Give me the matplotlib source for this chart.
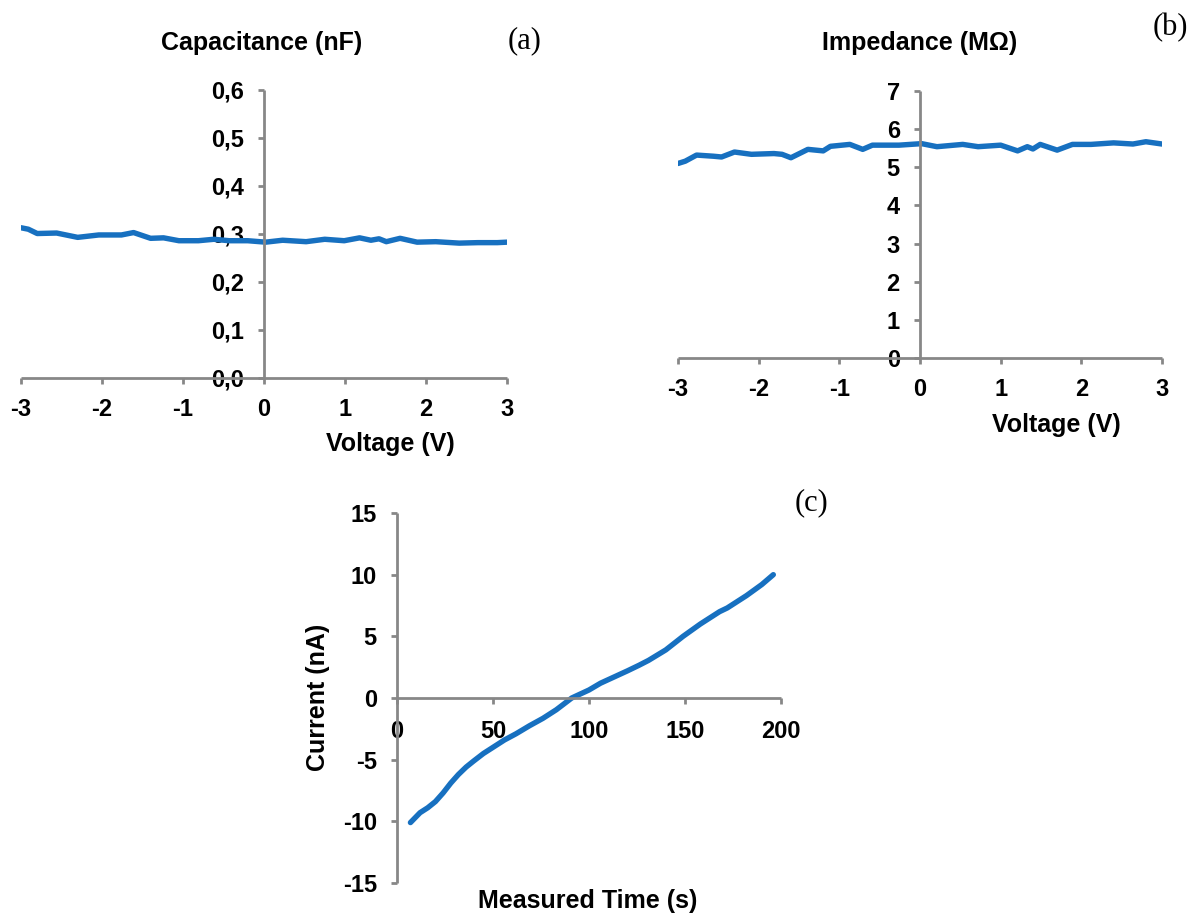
import matplotlib
matplotlib.use("Agg")
import matplotlib.pyplot as plt

# ---------------- data ----------------
cap_v = [-3.0, -2.91, -2.80, -2.56, -2.30, -2.04, -1.76, -1.61, -1.40, -1.24, -1.05, -0.81,
         -0.62, -0.43, -0.20, 0.02, 0.23, 0.52, 0.75, 0.99, 1.18, 1.32, 1.42, 1.51, 1.68,
         1.89, 2.12, 2.41, 2.64, 2.88, 3.0]
cap_nf = [0.313, 0.310, 0.301, 0.302, 0.293, 0.298, 0.298, 0.303, 0.291, 0.292, 0.286, 0.286,
          0.289, 0.286, 0.286, 0.283, 0.287, 0.284, 0.289, 0.286, 0.292, 0.287, 0.290, 0.284, 0.291,
          0.283, 0.284, 0.281, 0.282, 0.282, 0.283]

imp_v = [-3.0, -2.91, -2.77, -2.56, -2.46, -2.30, -2.09, -1.81, -1.71, -1.60, -1.39, -1.20,
         -1.11, -0.87, -0.71, -0.59, -0.26, 0.02, 0.21, 0.53, 0.72, 1.00, 1.21, 1.33, 1.40,
         1.49, 1.70, 1.89, 2.12, 2.40, 2.64, 2.80, 3.0]
imp_mohm = [5.10, 5.16, 5.32, 5.29, 5.27, 5.40, 5.34, 5.36, 5.34, 5.25, 5.47, 5.43,
            5.55, 5.60, 5.47, 5.58, 5.58, 5.62, 5.54, 5.60, 5.54, 5.58, 5.43, 5.54, 5.48,
            5.60, 5.45, 5.60, 5.60, 5.64, 5.61, 5.67, 5.61]

time_s = [7, 12, 16, 20, 24, 28, 32, 36, 40, 45, 50, 56, 62, 69, 76, 83, 91, 100, 106, 113,
          120, 126, 131, 140, 149, 158, 168, 172, 175, 182, 190, 196]
current_na = [-10.1, -9.3, -8.9, -8.4, -7.7, -6.9, -6.2, -5.6, -5.1, -4.5, -4.0, -3.4, -2.9,
              -2.25, -1.65, -0.95, 0.0, 0.65, 1.2, 1.7, 2.2, 2.65, 3.05, 3.9, 5.0, 6.0, 7.0,
              7.3, 7.6, 8.3, 9.2, 10.0]

v_ticks = [-3, -2, -1, 0, 1, 2, 3]
cap_ticks = [0.0, 0.1, 0.2, 0.3, 0.4, 0.5, 0.6]
cap_ticklabels = ["0,0", "0,1", "0,2", "0,3", "0,4", "0,5", "0,6"]
imp_ticks = [0, 1, 2, 3, 4, 5, 6, 7]
t_ticks = [0, 50, 100, 150, 200]
i_ticks = [-15, -10, -5, 0, 5, 10, 15]

# ---------------- style ----------------
W, H = 1192, 915
fig = plt.figure(figsize=(W / 100, H / 100), dpi=100)
plt.rcParams['font.family'] = ['Liberation Sans', 'DejaVu Sans']

LINE = '#1770c0'
SPINE = '#878787'
TICK_FS = 17
LAB_FS = 18


def px_axes(l, r, t, b):
    return fig.add_axes([l / W, 1 - b / H, (r - l) / W, (b - t) / H])


def style(ax):
    for s in ['top', 'right']:
        ax.spines[s].set_visible(False)
    for s in ['left', 'bottom']:
        ax.spines[s].set_color(SPINE)
        ax.spines[s].set_linewidth(2.0)
        ax.spines[s].set_capstyle('butt')
    ax.tick_params(axis='both', direction='out', length=4.5, width=2.0, color=SPINE,
                   labelsize=TICK_FS, pad=10)
    for lab in ax.get_xticklabels() + ax.get_yticklabels():
        lab.set_fontweight('bold')
    ax.patch.set_alpha(0)


# (a) Capacitance
axa = px_axes(21, 507, 90, 378)
axa.plot(cap_v, cap_nf, color=LINE, lw=3.9, solid_capstyle='round', solid_joinstyle='round')
axa.set_xlim(-3, 3)
axa.set_ylim(0, 0.6)
axa.spines['left'].set_position(('data', 0))
axa.set_xticks(v_ticks)
axa.set_xticklabels([str(v) for v in v_ticks])
axa.set_yticks(cap_ticks)
axa.set_yticklabels(cap_ticklabels)
style(axa)

# (b) Impedance
axb = px_axes(678, 1162, 91, 358)
axb.plot(imp_v, imp_mohm, color=LINE, lw=3.9, solid_capstyle='round', solid_joinstyle='round')
axb.set_xlim(-3, 3)
axb.set_ylim(0, 7)
axb.spines['left'].set_position(('data', 0))
axb.set_xticks(v_ticks)
axb.set_xticklabels([str(v) for v in v_ticks])
axb.set_yticks(imp_ticks)
axb.set_yticklabels([str(v) for v in imp_ticks])
style(axb)

# (c) Current
axc = px_axes(397, 781, 513, 883)
axc.plot(time_s, current_na, color=LINE, lw=3.9, solid_capstyle='round', solid_joinstyle='round')
axc.set_xlim(0, 200)
axc.set_ylim(-15, 15)
axc.spines['bottom'].set_position(('data', 0))
axc.set_xticks(t_ticks)
axc.set_xticklabels([str(v) for v in t_ticks])
axc.set_yticks(i_ticks)
axc.set_yticklabels([str(v) for v in i_ticks])
style(axc)
axc.tick_params(axis='x', pad=11)


def ftext(x, y, s, **kw):
    fig.text(x / W, 1 - y / H, s, ha='center', va='center', **kw)


ftext(262, 43, "Capacitance (nF)", fontsize=LAB_FS, fontweight='bold')
ftext(920, 43, "Impedance (M\u03a9)", fontsize=LAB_FS, fontweight='bold')
ftext(390, 444, "Voltage (V)", fontsize=LAB_FS, fontweight='bold')
ftext(1056, 425, "Voltage (V)", fontsize=LAB_FS, fontweight='bold')
ftext(588, 901, "Measured Time (s)", fontsize=LAB_FS, fontweight='bold')
ftext(318, 697, "Current (nA)", fontsize=LAB_FS, fontweight='bold', rotation=90)

serif = ['Liberation Serif', 'DejaVu Serif']
ftext(525, 41, "(a)", fontsize=22, family=serif)
ftext(1170, 28, "(b)", fontsize=22, family=serif)
ftext(812, 503, "(c)", fontsize=22, family=serif)

fig.savefig("out.png", dpi=100)
